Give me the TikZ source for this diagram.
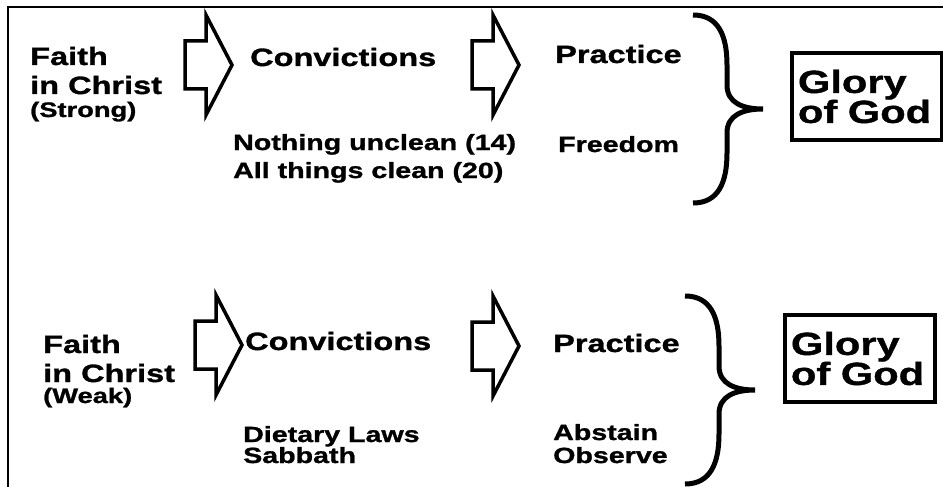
\documentclass[tikz,border=0pt]{standalone}
\usepackage{fontspec}
\setmainfont{Liberation Sans}[FakeStretch=1.3, BoldFeatures={FakeBold=1.2}]
\usetikzlibrary{calc}

\tikzset{
  lbl/.style={anchor=base west, inner sep=0pt, font=\fontsize{25}{30}\selectfont\bfseries},
  sublbl/.style={lbl, font=\fontsize{22}{26}\selectfont\bfseries},
  tag/.style={lbl, font=\fontsize{21}{24}\selectfont\bfseries},
  goalbox/.style={draw, line width=3.5pt, minimum width=150pt, minimum height=87pt,
    inner xsep=6pt, text width=138pt, align=left, font=\fontsize{32}{30}\selectfont\bfseries},
  fatarrow/.pic={
    \draw[line width=3.5pt, fill=white] (0,-24) -- (21,-24) -- (21,-50) -- (47,0)
      -- (21,50) -- (21,24) -- (0,24) -- cycle;
  },
  curly/.pic={
    \draw[line width=5pt] (0,0) .. controls (25,0) and (34,20) .. (34,50) -- (34,70)
      .. controls (34,88) and (50,94) .. (70,94) .. controls (50,94) and (34,100) .. (34,118)
      -- (34,138) .. controls (34,168) and (25,188) .. (0,188);
  }
}

\begin{document}
\begin{tikzpicture}[x=1pt, y=-1pt]
  \useasboundingbox (0,0) rectangle (943,487);
  \draw[line width=2pt] (8,487) |- (943,7);

  % strong
  \node[lbl] (faithS) at (30,65) {Faith};
  \node[lbl] (christS) at (30,94) {in Christ};
  \node[tag] (strong) at (30,117) {(Strong)};
  \pic at (185,65) {fatarrow};
  \node[lbl] (convS) at (250,66) {Convictions};
  \node[sublbl] (cleanA) at (233,150) {Nothing unclean (14)};
  \node[sublbl] (cleanB) at (233,178) {All things clean (20)};
  \pic at (472,65) {fatarrow};
  \node[lbl] (practS) at (555,63) {Practice};
  \node[sublbl] (freedom) at (558,152) {Freedom};
  \pic at (693,15) {curly};
  \node[goalbox] (gloryS) at (867,96.5) {Glory\\of God};

  % weak
  \node[lbl] (faithW) at (43,353) {Faith};
  \node[lbl] (christW) at (43,382) {in Christ};
  \node[tag] (weak) at (43,403) {(Weak)};
  \pic at (195,345) {fatarrow};
  \node[lbl] (convW) at (245,350) {Convictions};
  \node[sublbl] (dietary) at (243,442) {Dietary Laws};
  \node[sublbl] (sabbath) at (243,463) {Sabbath};
  \pic at (472,346) {fatarrow};
  \node[lbl] (practW) at (553,352) {Practice};
  \node[sublbl] (abstain) at (553,440) {Abstain};
  \node[sublbl] (observe) at (553,463) {Observe};
  \pic at (685,296) {curly};
  \node[goalbox] (gloryW) at (860,358.5) {Glory\\of God};
\end{tikzpicture}
\end{document}
